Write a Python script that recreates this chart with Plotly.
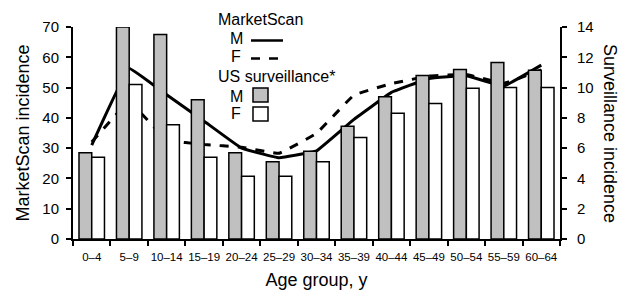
import plotly.graph_objects as go

categories = ["0–4", "5–9", "10–14", "15–19", "20–24", "25–29", "30–34",
              "35–39", "40–44", "45–49", "50–54", "55–59", "60–64"]
# US surveillance incidence (right axis)
surv_m = [5.7, 14.0, 13.5, 9.2, 5.7, 5.1, 5.8, 7.45, 9.4, 10.8, 11.2, 11.65, 11.15]
surv_f = [5.4, 10.2, 7.55, 5.4, 4.15, 4.15, 5.1, 6.7, 8.3, 8.95, 9.95, 10.0, 10.0]
# MarketScan incidence (left axis)
ms_m = [31.0, 56.3, 47.6, 38.9, 30.0, 26.8, 29.1, 39.5, 48.4, 53.0, 53.9, 50.5, 57.4]
ms_f = [32.0, 45.3, 32.7, 31.2, 30.3, 28.3, 34.9, 47.5, 51.3, 53.8, 54.3, 51.4, 55.8]

left_ticks = list(range(0, 71, 10))
right_ticks = list(range(0, 15, 2))

FONT = "Liberation Sans, Arial, sans-serif"

fig = go.Figure()
fig.add_trace(go.Bar(x=categories, y=surv_m, yaxis="y2", name="M",
                     marker=dict(color="#c0c0c0", line=dict(color="black", width=1.5))))
fig.add_trace(go.Bar(x=categories, y=surv_f, yaxis="y2", name="F",
                     marker=dict(color="white", line=dict(color="black", width=1.5))))
fig.add_trace(go.Scatter(x=categories, y=ms_m, mode="lines", name="M",
                         line=dict(color="black", width=3, shape="spline", smoothing=0.2)))
fig.add_trace(go.Scatter(x=categories, y=ms_f, mode="lines", name="F",
                         line=dict(color="black", width=3, dash="dash", shape="spline", smoothing=0.2)))

fig.update_layout(
    width=618, height=283,
    margin=dict(l=65, r=66, t=19, b=52),
    paper_bgcolor="white", plot_bgcolor="white",
    showlegend=False,
    barmode="group", bargap=0.32, bargroupgap=0,
    font=dict(family=FONT, color="black"),
    xaxis=dict(type="category", showline=True, linecolor="black", linewidth=2,
               ticks="outside", tickson="boundaries", ticklen=5, tickwidth=1.5,
               tickcolor="black", tickfont=dict(size=11.5), tickangle=0, showgrid=False,
               automargin=False, ticklabelstandoff=6,
               title=dict(text="Age group, y", font=dict(size=18), standoff=12)),
    yaxis=dict(range=[0, 70], tickvals=left_ticks, showline=True, linecolor="black",
               linewidth=2, ticks="outside", ticklen=5, tickwidth=1.5, tickcolor="black",
               tickfont=dict(size=15), showgrid=False, zeroline=False, automargin=False,
               ticklabelstandoff=4,
               title=dict(text="MarketScan incidence", font=dict(size=18), standoff=8)),
    yaxis2=dict(range=[0, 14], tickvals=right_ticks, overlaying="y", side="right",
                showline=True, linecolor="black", linewidth=2, ticks="outside",
                ticklen=5, tickwidth=1.5, tickcolor="black", tickfont=dict(size=15),
                showgrid=False, zeroline=False, automargin=False, ticklabelstandoff=7),
)

fig.add_annotation(text="Surveillance incidence", textangle=90, xref="paper", yref="paper",
                   x=1.0, y=0.5, xanchor="center", yanchor="middle", xshift=50,
                   showarrow=False, font=dict(size=18))

# Custom legend (paper coordinates relative to plot area)
def px(x):
    return (x - 73) / 487

def py(y):
    return (239 - y) / 212

legend_texts = [("MarketScan", 216, 19), ("M", 228, 39), ("F", 229, 57),
                ("US surveillance*", 216, 77), ("M", 228, 96), ("F", 229, 114)]
for t, x, y in legend_texts:
    fig.add_annotation(text=t, xref="paper", yref="paper", x=px(x), y=py(y),
                       xanchor="left", yanchor="middle", showarrow=False,
                       font=dict(size=16))
fig.add_shape(type="line", xref="paper", yref="paper", x0=px(251), x1=px(283),
              y0=py(40.5), y1=py(40.5), line=dict(color="black", width=2.5))
fig.add_shape(type="line", xref="paper", yref="paper", x0=px(251), x1=px(283),
              y0=py(58.5), y1=py(58.5), line=dict(color="black", width=2.5, dash="dash"))
fig.add_shape(type="rect", xref="paper", yref="paper", x0=px(253), x1=px(268),
              y0=py(102), y1=py(88), fillcolor="#c0c0c0", line=dict(color="black", width=1.5))
fig.add_shape(type="rect", xref="paper", yref="paper", x0=px(253), x1=px(268),
              y0=py(121), y1=py(107), fillcolor="white", line=dict(color="black", width=1.5))

fig.write_html("out.html")
